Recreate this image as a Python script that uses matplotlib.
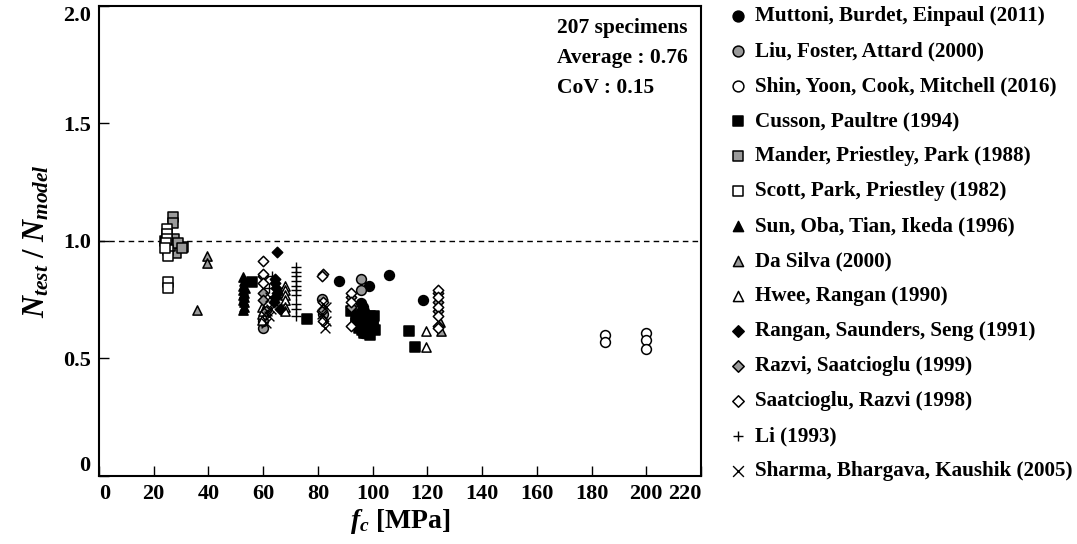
import matplotlib
matplotlib.use("Agg")
import matplotlib.pyplot as plt

plt.rcParams['font.family'] = 'Liberation Serif'
plt.rcParams['font.weight'] = 'bold'
plt.rcParams['axes.labelweight'] = 'bold'
plt.rcParams['mathtext.fontset'] = 'custom'
plt.rcParams['mathtext.rm'] = 'Liberation Serif:bold'
plt.rcParams['mathtext.it'] = 'Liberation Serif:italic:bold'
plt.rcParams['mathtext.bf'] = 'Liberation Serif:bold'

# data (fc [MPa], Ntest/Nmodel)
muttoni_x = [87.7, 98.7, 106.0, 118.5, 95.8, 96.5, 97.0]
muttoni_y = [0.83, 0.81, 0.855, 0.75, 0.735, 0.72, 0.70]

liu_x = [95.8, 95.8, 81.6, 60.0, 60.0, 96.5, 99.0, 82.0]
liu_y = [0.84, 0.79, 0.755, 0.63, 0.66, 0.61, 0.62, 0.69]

shin_x = [185, 185, 200, 200, 200]
shin_y = [0.60, 0.57, 0.61, 0.58, 0.54]

cusson_x = [24.5, 24.5, 24.0, 55.8, 75.9, 92, 94, 95, 96, 97, 98, 98, 99, 100, 100, 101,
            97, 95, 99, 113.3, 115.5, 94, 96, 98.5, 100.5]
cusson_y = [0.99, 0.975, 1.0, 0.825, 0.67, 0.70, 0.68, 0.66, 0.69, 0.67, 0.65, 0.63, 0.68,
            0.66, 0.64, 0.62, 0.61, 0.63, 0.60, 0.615, 0.55, 0.65, 0.62, 0.67, 0.68]

mander_x = [27.2, 27.2, 27.4, 28.3, 30.7, 28.0, 26.0, 29.0, 30.5]
mander_y = [1.10, 1.075, 1.01, 0.985, 0.975, 0.95, 0.98, 0.99, 0.97]

scott_x = [24.7, 24.7, 24.7, 24.5, 25.3, 25.3, 25.3, 25.3, 24.0]
scott_y = [1.05, 1.03, 1.01, 0.99, 0.96, 0.935, 0.825, 0.80, 0.97]

sun_x = [52.5, 53.0, 52.8, 53.2, 52.6, 53.0, 52.8, 53.1, 52.7, 53.0, 52.9, 52.8]
sun_y = [0.845, 0.83, 0.81, 0.80, 0.79, 0.78, 0.77, 0.76, 0.75, 0.74, 0.72, 0.705]

dasilva_x = [35.7, 39.6, 39.6, 124.5, 125.0]
dasilva_y = [0.705, 0.935, 0.905, 0.655, 0.615]

hwee_x = [59.5, 59.5, 59.5, 60.0, 68, 68, 68, 68, 68, 68, 119.5, 119.5]
hwee_y = [0.72, 0.69, 0.665, 0.70, 0.81, 0.79, 0.77, 0.75, 0.72, 0.70, 0.615, 0.55]

rangan_x = [65.2, 64.5, 64.5, 64.8, 65.0, 64.7, 63.8, 66.0]
rangan_y = [0.955, 0.84, 0.82, 0.80, 0.78, 0.76, 0.74, 0.71]

razvi_x = [60, 60, 60, 61, 82, 81.5, 92, 92, 124, 124, 124, 124]
razvi_y = [0.85, 0.78, 0.75, 0.70, 0.86, 0.70, 0.76, 0.72, 0.78, 0.74, 0.70, 0.64]

saatcioglu_x = [59.8, 60, 60, 81.5, 82, 82, 92, 92, 92, 124, 124, 124, 124, 124]
saatcioglu_y = [0.915, 0.86, 0.82, 0.85, 0.74, 0.66, 0.78, 0.74, 0.64, 0.79, 0.76, 0.72, 0.68, 0.63]

li_x = [72, 72, 72, 72, 72, 72, 72, 72, 72, 72, 63.2, 62]
li_y = [0.89, 0.87, 0.85, 0.83, 0.81, 0.79, 0.77, 0.73, 0.71, 0.68, 0.85, 0.80]

sharma_x = [61, 62, 63, 64, 62.5, 61.5, 82, 83, 83, 82.5, 81.5]
sharma_y = [0.65, 0.68, 0.71, 0.74, 0.76, 0.70, 0.73, 0.72, 0.66, 0.63, 0.69]

grey = '#9a9a9a'
series = [
    ('Muttoni, Burdet, Einpaul (2011)', muttoni_x, muttoni_y, 'o', 'black'),
    ('Liu, Foster, Attard (2000)', liu_x, liu_y, 'o', grey),
    ('Shin, Yoon, Cook, Mitchell (2016)', shin_x, shin_y, 'o', 'white'),
    ('Cusson, Paultre (1994)', cusson_x, cusson_y, 's', 'black'),
    ('Mander, Priestley, Park (1988)', mander_x, mander_y, 's', grey),
    ('Scott, Park, Priestley (1982)', scott_x, scott_y, 's', 'white'),
    ('Sun, Oba, Tian, Ikeda (1996)', sun_x, sun_y, '^', 'black'),
    ('Da Silva (2000)', dasilva_x, dasilva_y, '^', grey),
    ('Hwee, Rangan (1990)', hwee_x, hwee_y, '^', 'white'),
    ('Rangan, Saunders, Seng (1991)', rangan_x, rangan_y, 'D', 'black'),
    ('Razvi, Saatcioglu (1999)', razvi_x, razvi_y, 'D', grey),
    ('Saatcioglu, Razvi (1998)', saatcioglu_x, saatcioglu_y, 'D', 'white'),
    ('Li (1993)', li_x, li_y, '+', 'black'),
    ('Sharma, Bhargava, Kaushik (2005)', sharma_x, sharma_y, 'x', 'black'),
]

fig = plt.figure(figsize=(10.77, 5.44), dpi=100)
ax = fig.add_axes([0.0919, 0.125, 0.559, 0.864])

for label, xs, ys, m, c in series:
    size = 50 if m in 'os' else (44 if m == '^' else 28)
    if m in '+x':
        ax.scatter(xs, ys, s=50, marker=m, color='black', linewidths=1.0, label=label, zorder=3)
    else:
        ax.scatter(xs, ys, s=size, marker=m, facecolor=c, edgecolor='black', linewidths=1.1,
                   label=label, zorder=3)

ax.axhline(1.0, color='black', lw=1.0, ls=(0, (4, 3)), zorder=1)

ax.set_xlim(0, 220)
ax.set_ylim(0, 2.0)
ax.set_xticks(range(0, 221, 20))
ax.set_yticks([0, 0.5, 1.0, 1.5, 2.0])
ax.set_yticklabels(['0', '0.5', '1.0', '1.5', '2.0'])
ax.tick_params(direction='in', length=7, width=1, labelsize=16, pad=6)
for sp in ax.spines.values():
    sp.set_linewidth(1.5)

xl = ax.get_xticklabels()
xl[0].set_horizontalalignment('left')
xl[-1].set_horizontalalignment('right')
yl = ax.get_yticklabels()
yl[0].set_verticalalignment('bottom')
yl[-1].set_verticalalignment('top')

ax.set_xlabel('$f_c$ [MPa]', fontsize=20, labelpad=2)
ax.set_ylabel('$N_{test}$ / $N_{model}$', fontsize=22, labelpad=8)

ax.text(0.761, 0.953, '207 specimens', transform=ax.transAxes, fontsize=15.5, va='center')
ax.text(0.761, 0.890, 'Average : 0.76', transform=ax.transAxes, fontsize=15.5, va='center')
ax.text(0.761, 0.826, 'CoV : 0.15', transform=ax.transAxes, fontsize=15.5, va='center')

fig.legend(loc='upper left', bbox_to_anchor=(0.6755, 0.996), frameon=False, fontsize=15.2,
           handlelength=0.6, handletextpad=0.5, labelspacing=0.71, borderpad=0.2,
           borderaxespad=0, scatterpoints=1, markerscale=1.1)

fig.savefig('out.png', dpi=100)
